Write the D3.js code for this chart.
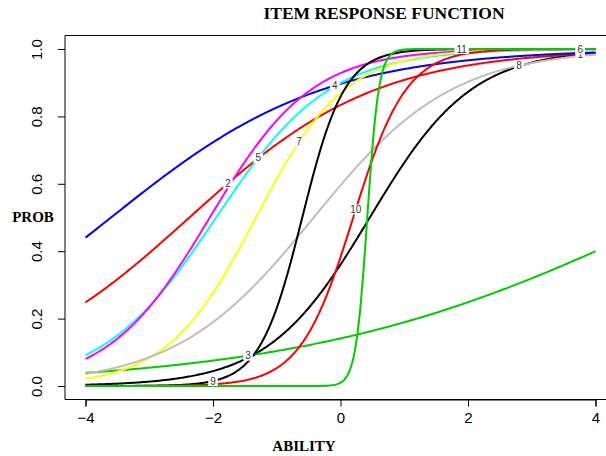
<!DOCTYPE html>
<html>
<head>
<meta charset="utf-8">
<script src="https://cdn.jsdelivr.net/npm/d3@7"></script>
<style>
  body { margin: 0; background: #fff; }
  svg { display: block; }
</style>
</head>
<body>
<svg id="chart" width="606" height="456"></svg>
<script>
// item parameters (logistic slope and location)
const items = ['1', '2', '3', '4', '5', '6', '7', '8', '9', '10', '11'];
const slopes = [1.25, 0.68, 0.35, 0.6, 1.12, 1.25, 1.43, 0.92, 3.0, 2.4, 11];
const locations = [0.46, -2.37, 5.16, -3.6, -1.95, -2.05, -1.325, -0.42, -0.6, 0.2, 0.42];
const colors = ['#000000', '#ff0000', '#00cd00', '#0000ff', '#00ffff', '#ff00ff',
  '#ffff00', '#bebebe', '#000000', '#ff0000', '#00cd00'];
// ability where each item number is written
const labelAt = [3.76, -1.765, -1.45, -0.09, -1.29, 3.76, -0.65, 2.8, -2.0, 0.24, 1.9];
const xTicks = [-4, -2, 0, 2, 4];
const yTicks = [0, 0.2, 0.4, 0.6, 0.8, 1.0];

const svg = d3.select('#chart');
const x = d3.scaleLinear().domain([-4, 4]).range([85.5, 595.5]);
const y = d3.scaleLinear().domain([0, 1]).range([386, 49]);

const prob = (i, t) => 1 / (1 + Math.exp(-slopes[i] * (t - locations[i])));
const grid = d3.range(0, 401).map(k => -4 + k * 0.02);

const line = d3.line()
    .x(d => x(d[0]))
    .y(d => y(d[1]));

const plot = svg.append('g');

items.forEach((name, i) => {
  plot.append('path')
      .attr('d', line(grid.map(t => [t, prob(i, t)])))
      .attr('fill', 'none')
      .attr('stroke', colors[i])
      .attr('stroke-width', 2);
});

// item numbers sit on a white patch that cuts the lines
items.forEach((name, i) => {
  const cx = x(labelAt[i]);
  const cy = y(prob(i, labelAt[i]));
  const lab = plot.append('g');
  const txt = lab.append('text')
      .attr('x', cx)
      .attr('y', cy + 3.5)
      .attr('text-anchor', 'middle')
      .style('font-family', 'Liberation Sans, Arial, sans-serif')
      .style('font-size', '10px')
      .attr('fill', '#333')
      .text(name);
  const w = txt.node().getComputedTextLength();
  lab.insert('rect', 'text')
      .attr('x', cx - w / 2 - 2)
      .attr('y', cy - 5)
      .attr('width', w + 4)
      .attr('height', 10)
      .attr('fill', '#fff');
});

// box (right side falls outside the window)
svg.append('path')
    .attr('d', 'M620,35.5H65V399.5H620')
    .attr('fill', 'none')
    .attr('stroke', '#000')
    .attr('stroke-width', 1);

const xAxis = svg.append('g')
    .attr('transform', 'translate(0,399.5)')
    .call(d3.axisBottom(x).tickValues(xTicks).tickSize(7).tickPadding(6)
        .tickFormat(d => d < 0 ? '\u2212' + Math.abs(d) : d));
xAxis.select('.domain').attr('stroke', '#000');
xAxis.selectAll('text')
    .style('font-family', 'Liberation Sans, Arial, sans-serif')
    .style('font-size', '15px')
    .attr('fill', '#000');

const yAxis = svg.append('g')
    .attr('transform', 'translate(65,0)')
    .call(d3.axisLeft(y).tickValues(yTicks).tickSize(7).tickPadding(6)
        .tickFormat(d3.format('.1f')));
yAxis.select('.domain').remove();
yAxis.selectAll('text')
    .style('font-family', 'Liberation Sans, Arial, sans-serif')
    .style('font-size', '15px')
    .attr('fill', '#000')
    .attr('text-anchor', 'middle')
    .attr('x', -28)
    .attr('y', 0)
    .attr('dy', '0.35em')
    .attr('transform', 'rotate(-90,-28,0)');

const serif = 'Liberation Serif, Times New Roman, serif';
svg.append('text')
    .attr('x', 384)
    .attr('y', 19)
    .attr('text-anchor', 'middle')
    .style('font-family', serif)
    .style('font-weight', 'bold')
    .style('font-size', '17.5px')
    .text('ITEM RESPONSE FUNCTION');

svg.append('text')
    .attr('x', 304)
    .attr('y', 451)
    .attr('text-anchor', 'middle')
    .style('font-family', serif)
    .style('font-weight', 'bold')
    .style('font-size', '15px')
    .text('ABILITY');

svg.append('text')
    .attr('x', 33)
    .attr('y', 222)
    .attr('text-anchor', 'middle')
    .style('font-family', serif)
    .style('font-weight', 'bold')
    .style('font-size', '15px')
    .text('PROB');
</script>
</body>
</html>
